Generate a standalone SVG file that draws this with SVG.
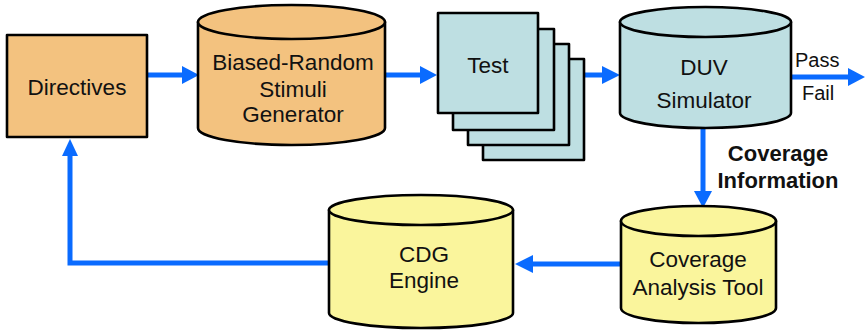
<svg xmlns="http://www.w3.org/2000/svg" width="865" height="330" viewBox="0 0 865 330">
  <style>
    .lbl { font-family: "Liberation Sans", Arial, sans-serif; font-size: 22.5px; fill: #111; text-anchor: middle; }
    .small { font-size: 20px; text-anchor: start; }
    .bold { font-weight: bold; font-size: 22px; }
    .shape { stroke: #000; stroke-width: 2.6; stroke-linejoin: round; }
    .tan { fill: #F3C27F; }
    .cyan { fill: #BEDFE2; }
    .yellow { fill: #FAF59C; }
    .wire { fill: none; stroke: #0A6BFF; stroke-width: 5; }
    .head { fill: #0A6BFF; }
  </style>

  <!-- connectors -->
  <g id="connectors">
    <!-- Directives -> generator -->
    <line class="wire" x1="147" y1="75" x2="184" y2="75"/>
    <polygon class="head" points="182,66 199,75 182,84"/>
    <!-- generator -> test -->
    <line class="wire" x1="385" y1="75" x2="422" y2="75"/>
    <polygon class="head" points="420,66 437,75 420,84"/>
    <!-- test -> simulator -->
    <line class="wire" x1="584" y1="75" x2="604" y2="75"/>
    <polygon class="head" points="602,66 620,75 602,84"/>
    <!-- pass / fail out -->
    <line class="wire" x1="791" y1="77" x2="850" y2="77"/>
    <polygon class="head" points="848,68 865,77 848,86"/>
    <!-- simulator -> coverage analysis -->
    <line class="wire" x1="703" y1="128" x2="703" y2="193"/>
    <polygon class="head" points="694,191 703,208 712,191"/>
    <!-- coverage analysis -> CDG engine -->
    <line class="wire" x1="621" y1="264" x2="531" y2="264"/>
    <polygon class="head" points="533,255 515,264 533,273"/>
    <!-- CDG engine -> directives (feedback loop) -->
    <polyline class="wire" points="329,263 70,263 70,154"/>
    <polygon class="head" points="62,156 70,139 78,156"/>
  </g>

  <!-- Directives -->
  <g id="directives">
    <rect class="shape tan" x="7" y="35" width="140" height="102"/>
    <text class="lbl" x="77" y="95">Directives</text>
  </g>

  <!-- Biased-Random Stimuli Generator -->
  <g id="generator">
    <path class="shape tan" d="M198,22 V128 A93.5,17 0 0 0 385,128 V22 Z"/>
    <ellipse class="shape tan" cx="291.5" cy="22" rx="93.5" ry="17"/>
    <text class="lbl" x="293" y="70">Biased-Random</text>
    <text class="lbl" x="293" y="97">Stimuli</text>
    <text class="lbl" x="293" y="122">Generator</text>
  </g>

  <!-- Test stack -->
  <g id="test">
    <rect class="shape cyan" x="483" y="59" width="101" height="101"/>
    <rect class="shape cyan" x="468" y="44" width="101" height="101"/>
    <rect class="shape cyan" x="453" y="29" width="101" height="101"/>
    <rect class="shape cyan" x="438" y="13" width="100" height="100"/>
    <text class="lbl" x="488" y="73">Test</text>
  </g>

  <!-- DUV Simulator -->
  <g id="simulator">
    <path class="shape cyan" d="M620,22 V113 A85.5,15 0 0 0 791,113 V22 Z"/>
    <ellipse class="shape cyan" cx="705.5" cy="22" rx="85.5" ry="15"/>
    <text class="lbl" x="704" y="75">DUV</text>
    <text class="lbl" x="704" y="108">Simulator</text>
  </g>

  <g id="result-labels">
    <text class="lbl small" x="795" y="67">Pass</text>
    <text class="lbl small" x="802" y="100">Fail</text>
  </g>

  <g id="coverage-info-label">
    <text class="lbl bold" x="778" y="161">Coverage</text>
    <text class="lbl bold" x="778" y="188">Information</text>
  </g>

  <!-- Coverage Analysis Tool -->
  <g id="coverage-analysis">
    <path class="shape yellow" d="M621,221 V308 A77.5,15 0 0 0 776,308 V221 Z"/>
    <ellipse class="shape yellow" cx="698.5" cy="221" rx="77.5" ry="15"/>
    <text class="lbl" x="698" y="267">Coverage</text>
    <text class="lbl" x="698" y="295">Analysis Tool</text>
  </g>

  <!-- CDG Engine -->
  <g id="cdg-engine">
    <path class="shape yellow" d="M329,210 V313 A92,15 0 0 0 513,313 V210 Z"/>
    <ellipse class="shape yellow" cx="421" cy="210" rx="92" ry="15"/>
    <text class="lbl" x="424" y="262">CDG</text>
    <text class="lbl" x="424" y="288">Engine</text>
  </g>
</svg>
